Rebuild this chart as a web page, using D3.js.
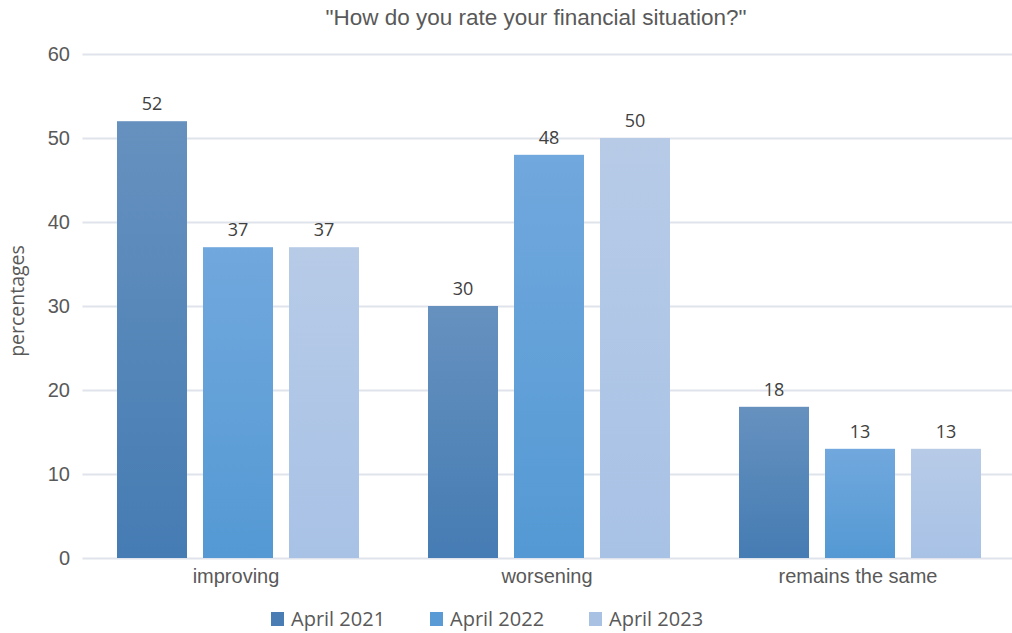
<!DOCTYPE html>
<html>
<head>
<meta charset="utf-8">
<script src="https://cdn.jsdelivr.net/npm/d3@7"></script>
<style>
  html, body { margin: 0; padding: 0; background: #ffffff; }
  svg { display: block; }
</style>
</head>
<body>
<svg id="chart" width="1012" height="633"></svg>
<script>
// Survey answers, share of respondents (%)
const categories = ["improving", "worsening", "remains the same"];
const seriesNames = ["April 2021", "April 2022", "April 2023"];
const april2021 = [52, 30, 18];
const april2022 = [37, 48, 13];
const april2023 = [37, 50, 13];
const yTicks = [0, 10, 20, 30, 40, 50, 60];

const seriesValues = [april2021, april2022, april2023];
// top / bottom colours of each series' vertical gradient
const gradientStops = [
  ["#6691bf", "#457cb3"],
  ["#71a8dd", "#5499d4"],
  ["#b7cbe7", "#a8c2e6"]
];
const legendSwatch = ["#4a7db4", "#5b9bd5", "#a9c2e4"];

const svg = d3.select("#chart");
const margin = { left: 82.5, right: 1015.5, top: 54, bottom: 558 };

const x0 = d3.scaleBand().domain(categories).range([margin.left, margin.right]).paddingInner(0).paddingOuter(0);
const x1 = d3.scaleBand().domain(seriesNames).range([34.5, 311 - 34.5]).paddingInner(16 / 86).paddingOuter(0);
const y = d3.scaleLinear().domain([0, 60]).range([margin.bottom, margin.top]);

// gradients
const defs = svg.append("defs");
seriesNames.forEach((s, i) => {
  const g = defs.append("linearGradient")
    .attr("id", "grad" + i)
    .attr("x1", 0).attr("y1", 0).attr("x2", 0).attr("y2", 1);
  g.append("stop").attr("offset", "0%").attr("stop-color", gradientStops[i][0]);
  g.append("stop").attr("offset", "100%").attr("stop-color", gradientStops[i][1]);
});

// gridlines
svg.append("g")
  .selectAll("line")
  .data(yTicks)
  .join("line")
  .attr("x1", margin.left)
  .attr("x2", 1012)
  .attr("y1", d => Math.round(y(d)) + 0.5)
  .attr("y2", d => Math.round(y(d)) + 0.5)
  .attr("stroke", "#dfe4ec")
  .attr("stroke-width", 2);

// y tick labels
svg.append("g")
  .selectAll("text")
  .data(yTicks)
  .join("text")
  .attr("x", 70)
  .attr("y", d => y(d) + 7)
  .attr("text-anchor", "end")
  .attr("font-family", "Liberation Sans, Arial, sans-serif")
  .attr("font-size", 20)
  .attr("fill", "#595959")
  .text(d => d);

// bars
const groups = svg.append("g")
  .selectAll("g")
  .data(categories)
  .join("g")
  .attr("transform", d => `translate(${x0(d)},0)`);

groups.selectAll("rect")
  .data((c, ci) => seriesNames.map((s, si) => ({ s, si, v: seriesValues[si][ci] })))
  .join("rect")
  .attr("x", d => x1(d.s))
  .attr("width", x1.bandwidth())
  .attr("y", d => y(d.v))
  .attr("height", d => y(0) - y(d.v))
  .attr("fill", d => `url(#grad${d.si})`);

// data labels
groups.selectAll("text")
  .data((c, ci) => seriesNames.map((s, si) => ({ s, si, v: seriesValues[si][ci] })))
  .join("text")
  .attr("x", d => x1(d.s) + x1.bandwidth() / 2)
  .attr("y", d => y(d.v) - 11)
  .attr("text-anchor", "middle")
  .attr("font-family", "Open Sans, sans-serif")
  .attr("font-size", 18)
  .attr("fill", "#404040")
  .text(d => d.v);

// category labels
svg.append("g")
  .selectAll("text")
  .data(categories)
  .join("text")
  .attr("x", d => x0(d) + x0.bandwidth() / 2 - 2)
  .attr("y", 583)
  .attr("text-anchor", "middle")
  .attr("font-family", "Liberation Sans, Arial, sans-serif")
  .attr("font-size", 20)
  .attr("fill", "#595959")
  .text(d => d);

// y axis title
svg.append("text")
  .attr("transform", "translate(24,301) rotate(-90)")
  .attr("text-anchor", "middle")
  .attr("font-family", "Open Sans, sans-serif")
  .attr("font-size", 19.5)
  .attr("fill", "#595959")
  .text("percentages");

// chart title
svg.append("text")
  .attr("x", 536)
  .attr("y", 25)
  .attr("text-anchor", "middle")
  .attr("font-family", "Liberation Sans, Arial, sans-serif")
  .attr("font-size", 22.5)
  .attr("fill", "#595959")
  .text("\"How do you rate your financial situation?\"");

// legend
const legendX = [271, 430, 589];
const legend = svg.append("g")
  .selectAll("g")
  .data(seriesNames)
  .join("g")
  .attr("transform", (d, i) => `translate(${legendX[i]},612)`);
legend.append("rect")
  .attr("width", 13).attr("height", 14)
  .attr("fill", (d, i) => legendSwatch[i]);
legend.append("text")
  .attr("x", 20)
  .attr("y", 14)
  .attr("font-family", "Open Sans, sans-serif")
  .attr("font-size", 20)
  .attr("fill", "#595959")
  .text(d => d);
</script>
</body>
</html>
